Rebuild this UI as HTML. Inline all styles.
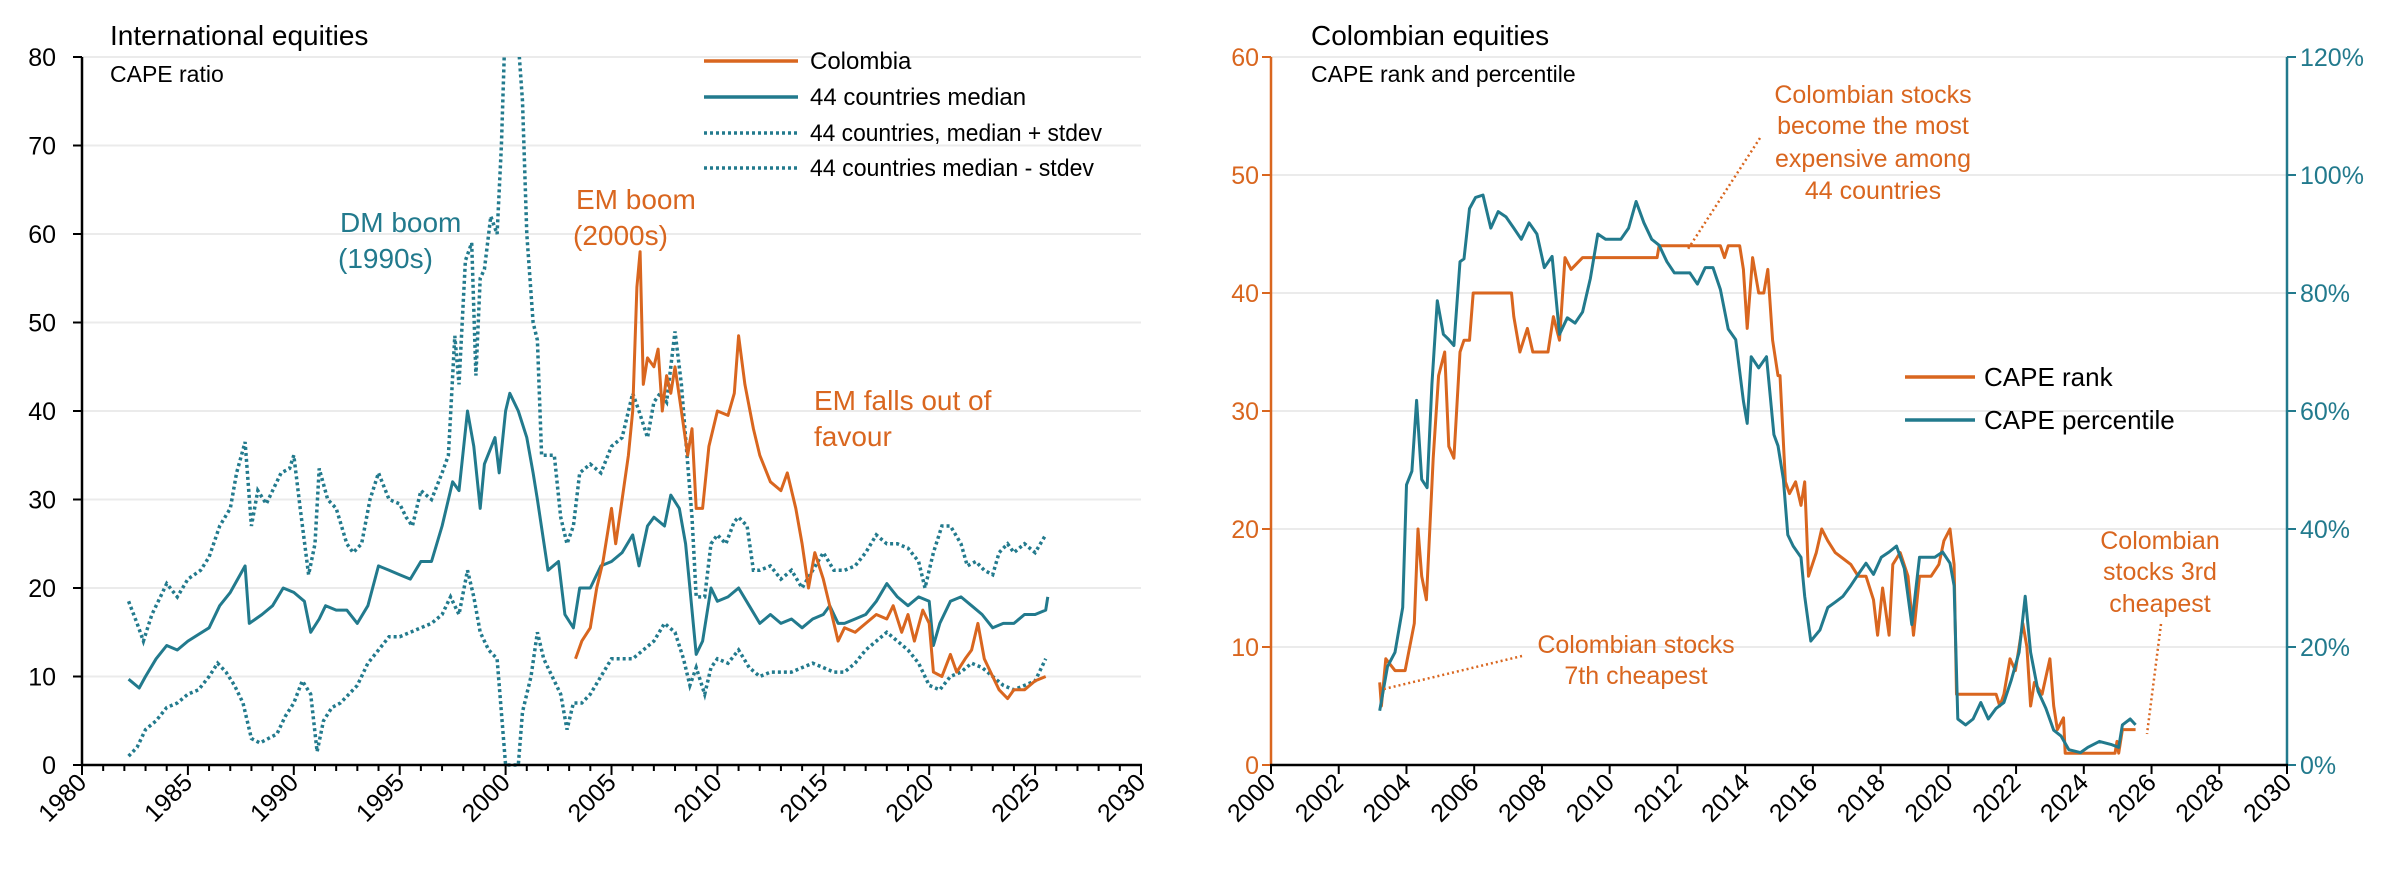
<!DOCTYPE html>
<html><head><meta charset="utf-8">
<style>
html,body{margin:0;padding:0;background:#fff;}
svg{display:block;}
text{font-family:"Liberation Sans Narrow","Liberation Sans",sans-serif;}
.ttl{font-family:"Liberation Sans",sans-serif;}
</style></head>
<body>
<svg id="chart" width="2400" height="875" viewBox="0 0 2400 875" xmlns="http://www.w3.org/2000/svg">
<defs>
<clipPath id="clipL"><rect x="82" y="57" width="1060" height="712"/></clipPath>
<clipPath id="clipR"><rect x="1271" y="57" width="1017" height="712"/></clipPath>
</defs>
<g id="gridL"></g>
<g id="gridR"></g>
<g id="seriesL" clip-path="url(#clipL)"></g>
<g id="seriesR" clip-path="url(#clipR)"></g>
<g id="axesL"></g>
<g id="axesR"></g>

<text class="ttl" x="110" y="45" font-size="28" fill="#000">International equities</text>
<text class="ttl" x="110" y="82" font-size="23" fill="#000">CAPE ratio</text>
<text class="ttl" x="1311" y="45" font-size="28" fill="#000">Colombian equities</text>
<text class="ttl" x="1311" y="82" font-size="23" fill="#000">CAPE rank and percentile</text>

<g font-size="24" fill="#000">
<g><line x1="704" y1="61" x2="798" y2="61" stroke="#d9661f" stroke-width="3.5"/><text x="810" y="69">Colombia</text></g>
<g><line x1="704" y1="97" x2="798" y2="97" stroke="#227a8d" stroke-width="3.5"/><text x="810" y="105">44 countries median</text></g>
<g><line x1="704" y1="133" x2="798" y2="133" stroke="#227a8d" stroke-width="3.5" stroke-dasharray="3,3"/><text x="810" y="141" textLength="292" lengthAdjust="spacingAndGlyphs">44 countries, median + stdev</text></g>
<g><line x1="704" y1="168" x2="798" y2="168" stroke="#227a8d" stroke-width="3.5" stroke-dasharray="3,3"/><text x="810" y="176" textLength="284" lengthAdjust="spacingAndGlyphs">44 countries median - stdev</text></g>
</g>
<g font-size="28" fill="#227a8d"><text x="340" y="232">DM boom</text><text x="338" y="268">(1990s)</text></g>
<g font-size="28" fill="#d9661f"><text x="576" y="209">EM boom</text><text x="573" y="245">(2000s)</text></g>
<g font-size="28" fill="#d9661f"><text x="814" y="410">EM falls out of</text><text x="814" y="446">favour</text></g>

<g font-size="26" fill="#000">
<g><line x1="1905" y1="377" x2="1975" y2="377" stroke="#d9661f" stroke-width="3.5"/><text x="1984" y="386">CAPE rank</text></g>
<g><line x1="1905" y1="420" x2="1975" y2="420" stroke="#227a8d" stroke-width="3.5"/><text x="1984" y="429">CAPE percentile</text></g>
</g>
<g font-size="25" fill="#d9661f" text-anchor="middle">
<text x="1873" y="103">Colombian stocks</text><text x="1873" y="134">become the most</text><text x="1873" y="167">expensive among</text><text x="1873" y="199">44 countries</text>
<line x1="1760" y1="138" x2="1688" y2="249" stroke="#d9661f" stroke-width="2.5" stroke-dasharray="2,3"/>
</g>
<g font-size="25" fill="#d9661f" text-anchor="middle">
<text x="1636" y="653">Colombian stocks</text><text x="1636" y="684">7th cheapest</text>
<line x1="1522" y1="656" x2="1384" y2="689" stroke="#d9661f" stroke-width="2.5" stroke-dasharray="2,3"/>
</g>
<g font-size="25" fill="#d9661f" text-anchor="middle">
<text x="2160" y="549">Colombian</text><text x="2160" y="580">stocks 3rd</text><text x="2160" y="612">cheapest</text>
<line x1="2161" y1="624" x2="2147" y2="734" stroke="#d9661f" stroke-width="2.5" stroke-dasharray="2,3"/>
</g>
</svg>
<script>
// ---------- Left chart data ----------
const medYears = [1982.2,1982.7,1983,1983.5,1984,1984.5,1985,1986,1986.5,1987,1987.7,1987.9,1988.5,1989,1989.5,1990,1990.5,1990.8,1991.2,1991.5,1992,1992.5,1993,1993.5,1994,1994.5,1995,1995.5,1996,1996.5,1997,1997.5,1997.8,1998.2,1998.5,1998.8,1999,1999.5,1999.7,2000,2000.2,2000.6,2001,2001.3,2001.5,2002,2002.5,2002.8,2003.2,2003.5,2004,2004.5,2005,2005.5,2006,2006.3,2006.7,2007,2007.5,2007.8,2008.2,2008.5,2008.7,2009,2009.3,2009.7,2010,2010.5,2011,2011.5,2012,2012.5,2013,2013.5,2014,2014.5,2015,2015.3,2015.7,2016,2016.5,2017,2017.5,2018,2018.5,2019,2019.5,2020,2020.2,2020.5,2021,2021.5,2022,2022.5,2023,2023.5,2024,2024.5,2025,2025.5,2025.6];
const medValues = [9.7,8.7,10,12,13.5,13,14,15.5,18,19.5,22.5,16,17,18,20,19.5,18.5,15,16.5,18,17.5,17.5,16,18,22.5,22,21.5,21,23,23,27,32,31,40,36,29,34,37,33,40,42,40,37,33,30,22,23,17,15.5,20,20,22.5,23,24,26,22.5,27,28,27,30.5,29,25,20,12.5,14,20,18.5,19,20,18,16,17,16,16.5,15.5,16.5,17,18,16,16,16.5,17,18.5,20.5,19,18,19,18.5,13.5,16,18.5,19,18,17,15.5,16,16,17,17,17.5,19];
const colYears = [2003.3,2003.6,2004,2004.3,2004.6,2005,2005.2,2005.5,2005.8,2006,2006.2,2006.35,2006.5,2006.7,2007,2007.2,2007.4,2007.6,2007.8,2008,2008.3,2008.6,2008.8,2009,2009.3,2009.6,2010,2010.5,2010.8,2011,2011.3,2011.7,2012,2012.5,2013,2013.3,2013.7,2014,2014.3,2014.6,2015,2015.3,2015.7,2016,2016.5,2017,2017.5,2018,2018.3,2018.7,2019,2019.3,2019.7,2020,2020.2,2020.6,2021,2021.3,2021.7,2022,2022.3,2022.6,2023,2023.3,2023.7,2024,2024.5,2025,2025.5];
const colValues = [12,14,15.5,20,23,29,25,30,35,40,54,58,43,46,45,47,40,44,42,45,40,35,38,29,29,36,40,39.5,42,48.5,43,38,35,32,31,33,29,25,20,24,21,18,14,15.5,15,16,17,16.5,18,15,17,14,17.5,16,10.5,10,12.5,10.5,12,13,16,12,10,8.5,7.5,8.5,8.5,9.5,10];
const upYears = [1982.2,1982.6,1982.9,1983.3,1983.7,1984,1984.5,1985,1985.6,1986,1986.5,1987,1987.3,1987.7,1988,1988.3,1988.7,1989,1989.4,1989.8,1990,1990.3,1990.7,1991,1991.2,1991.6,1992,1992.5,1992.8,1993.2,1993.6,1994,1994.5,1995,1995.3,1995.6,1996,1996.5,1997,1997.3,1997.6,1997.8,1998.1,1998.4,1998.6,1998.8,1999,1999.3,1999.6,1999.8,2000,2000.5,2000.8,2001,2001.3,2001.5,2001.7,2002,2002.3,2002.6,2002.9,2003.2,2003.5,2004,2004.5,2005,2005.5,2006,2006.3,2006.7,2007,2007.3,2007.6,2008,2008.3,2008.6,2008.8,2009,2009.4,2009.7,2010,2010.4,2010.8,2011,2011.4,2011.7,2012,2012.5,2013,2013.5,2014,2014.5,2015,2015.5,2016,2016.5,2017,2017.5,2018,2018.5,2019,2019.5,2019.8,2020.2,2020.6,2021,2021.5,2021.8,2022.2,2022.6,2023,2023.3,2023.7,2024,2024.5,2025,2025.5];
const upValues = [18.5,16,14,17,19,20.5,19,21,22,23.5,27,29,33,36.5,27,31,29.5,31,33,33.5,35,29,21.5,25,33.5,30,29,25,24,25,30,33,30,29.5,28,27,31,30,33,35,48.5,43,57,59,44,55,56,62,60,70,85,85,75,60,50,48,35,35,35,28,25,27,33,34,33,36,37,42,40,37,41,42,41,49,43,34,28,19,19,25,26,25,27.5,28,27,22,22,22.5,21,22,20,22,24,22,22,22.5,24,26,25,25,24.5,23,20,24,27,27,25,22.5,23,22,21.5,24,25,24,25,24,26];
const loYears = [1982.2,1982.6,1983,1983.5,1984,1984.5,1985,1985.5,1986,1986.4,1986.8,1987.2,1987.6,1988,1988.4,1988.8,1989.2,1989.6,1990,1990.4,1990.8,1991.1,1991.4,1991.8,1992.2,1992.6,1993,1993.5,1994,1994.5,1995,1995.5,1996,1996.5,1997,1997.4,1997.8,1998.2,1998.5,1998.8,1999.2,1999.6,2000,2000.6,2000.8,2001.2,2001.5,2001.8,2002.2,2002.6,2002.9,2003.2,2003.6,2004,2004.5,2005,2005.5,2006,2006.5,2007,2007.5,2008,2008.4,2008.7,2009,2009.4,2009.7,2010,2010.5,2011,2011.5,2012,2012.5,2013,2013.5,2014,2014.5,2015,2015.5,2016,2016.5,2017,2017.5,2018,2018.5,2019,2019.5,2020,2020.5,2021,2021.5,2022,2022.5,2023,2023.5,2024,2024.5,2025,2025.5];
const loValues = [1,2,4,5,6.5,7,8,8.5,10,11.5,10.5,9,7,3,2.5,3,3.5,5.5,7,9.5,8,1.5,5,6.5,7,8,9,11.5,13,14.5,14.5,15,15.5,16,17,19,17,22,19,15,13,12,0,0,6,10,15,12,10,8,4,7,7,8,10,12,12,12,13,14,16,15,12,9,11,8,11,12,11.5,13,11,10,10.5,10.5,10.5,11,11.5,11,10.5,10.5,11.5,13,14,15,14,13,11.5,9,8.5,10,10.5,11.5,11,10,9,8.5,9,9.5,12];
const leftYTicks = [0,10,20,30,40,50,60,70,80];
const leftXTicks = [1980,1985,1990,1995,2000,2005,2010,2015,2020,2025,2030];

// ---------- Right chart data ----------
const rankYears = [2003.21,2003.26,2003.39,2003.66,2003.96,2004.23,2004.34,2004.45,2004.59,2004.79,2004.95,2005.13,2005.25,2005.40,2005.58,2005.70,2005.86,2005.97,2007.10,2007.17,2007.35,2007.57,2007.73,2008.18,2008.34,2008.52,2008.68,2008.86,2009.20,2011.40,2011.46,2013.27,2013.39,2013.50,2013.84,2013.95,2014.06,2014.22,2014.40,2014.55,2014.67,2014.81,2014.97,2015.03,2015.19,2015.31,2015.49,2015.65,2015.76,2015.87,2016.10,2016.26,2016.44,2016.66,2016.89,2017.12,2017.34,2017.57,2017.79,2017.91,2018.06,2018.25,2018.36,2018.58,2018.81,2018.97,2019.15,2019.49,2019.72,2019.87,2020.05,2020.17,2020.24,2021.41,2021.52,2021.64,2021.82,2021.98,2022.20,2022.32,2022.43,2022.54,2022.77,2023.00,2023.11,2023.22,2023.40,2023.45,2024.92,2024.98,2025.03,2025.14,2025.53];
const rankValues = [7,5,9,8,8,12,20,16,14,26,33,35,27,26,35,36,36,40,40,38,35,37,35,35,38,36,43,42,43,43,44,44,43,44,44,42,37,43,40,40,42,36,33,33,24,23,24,22,24,16,18,20,19,18,17.5,17,16,16,14,11,15,11,17,18,16,11,16,16,17,19,20,17,6,6,5,6,9,8,12,10,5,7,6,9,5,3,4,1,1,2,1,3,3];
const pctYears = [2003.21,2003.44,2003.66,2003.89,2004.0,2004.16,2004.30,2004.45,2004.61,2004.75,2004.91,2005.09,2005.25,2005.40,2005.58,2005.70,2005.86,2006.04,2006.26,2006.49,2006.71,2006.94,2007.17,2007.39,2007.62,2007.85,2008.07,2008.30,2008.52,2008.75,2008.98,2009.20,2009.43,2009.65,2009.88,2010.33,2010.56,2010.78,2011.01,2011.24,2011.46,2011.69,2011.91,2012.37,2012.59,2012.82,2013.05,2013.27,2013.50,2013.72,2013.95,2014.06,2014.18,2014.40,2014.63,2014.85,2014.97,2015.13,2015.26,2015.42,2015.65,2015.76,2015.94,2016.21,2016.44,2016.66,2016.89,2017.12,2017.34,2017.57,2017.79,2018.02,2018.25,2018.47,2018.70,2018.92,2019.15,2019.38,2019.60,2019.83,2020.05,2020.17,2020.28,2020.51,2020.73,2020.96,2021.18,2021.41,2021.64,2021.86,2022.09,2022.27,2022.43,2022.65,2022.88,2023.11,2023.33,2023.56,2023.90,2024.12,2024.46,2024.80,2025.03,2025.14,2025.37,2025.53];
const pctValues = [9.2,16.7,19.1,26.7,47.5,49.8,61.8,48.4,47.0,64.5,78.7,73.0,72.1,71.1,85.3,85.8,94.3,96.2,96.6,91.0,93.8,92.9,91.0,89.1,91.9,90.0,84.3,86.2,73.0,75.8,74.9,76.8,82.5,90.0,89.1,89.1,91.0,95.5,91.9,89.1,88.1,85.3,83.4,83.4,81.5,84.3,84.3,80.6,73.9,72.1,61.7,57.9,69.2,67.3,69.2,56.0,54.1,48.4,39.0,37.1,35.2,28.6,21.0,22.9,26.7,27.6,28.6,30.4,32.3,34.2,32.3,35.2,36.1,37.1,33.3,23.8,35.2,35.2,35.2,36.1,34.2,30.4,7.8,6.8,7.8,10.6,7.8,9.6,10.6,14.4,19.1,28.6,19.1,12.5,9.6,5.9,4.9,2.6,2.1,3.0,4.0,3.5,3.0,6.8,7.8,6.8];
const rankTicks = [0,10,20,30,40,50,60];
const pctTicks = [0,20,40,60,80,100,120];
const rightXTicks = [2000,2002,2004,2006,2008,2010,2012,2014,2016,2018,2020,2022,2024,2026,2028,2030];

const NS = "http://www.w3.org/2000/svg";
const ORANGE = "#d9661f", TEAL = "#227a8d";
function mk(tag, attrs, parent){const e=document.createElementNS(NS,tag);for(const k in attrs)e.setAttribute(k,attrs[k]);parent.appendChild(e);return e;}

const xL = y => 82 + (y-1980)*(1141-82)/50;
const yL = v => 765 - v*(765-57)/80;
const xR = y => 1271 + (y-2000)*(2287-1271)/30;
const yRank = v => 765 - v*(765-57)/60;
const yPct = v => 765 - v*(765-57)/120;

function pathD(xs, vs, fx, fy){return xs.map((x,i)=>(i?"L":"M")+fx(x).toFixed(1)+","+fy(vs[i]).toFixed(1)).join(" ");}

const gridL=document.getElementById('gridL'), gridR=document.getElementById('gridR');
const seriesL=document.getElementById('seriesL'), seriesR=document.getElementById('seriesR');
const axesL=document.getElementById('axesL'), axesR=document.getElementById('axesR');

leftYTicks.forEach(v=>{
  if(v>0){const g=mk('line',{x1:82,x2:1141,y1:yL(v),y2:yL(v),stroke:'#ebebeb','stroke-width':2},gridL);
  
  }
  mk('line',{x1:73,x2:82,y1:yL(v),y2:yL(v),stroke:'#000','stroke-width':2},axesL);
  const t=mk('text',{x:56,y:yL(v)+9,'text-anchor':'end','font-size':25,fill:'#000'},axesL);
  t.textContent=v;
  
  
});
mk('line',{x1:82,x2:82,y1:57,y2:766,stroke:'#000','stroke-width':2.5},axesL);
mk('line',{x1:81,x2:1142,y1:765,y2:765,stroke:'#000','stroke-width':2.5},axesL);
for(let yr=1980; yr<=2030; yr++){
  const major = yr%5===0;
  mk('line',{x1:xL(yr),x2:xL(yr),y1:765,y2:major?775:771,stroke:'#000','stroke-width':2},axesL);
}
leftXTicks.forEach(yr=>{
  const x=xL(yr)+6, y=784;
  const t=mk('text',{x:x,y:y,'text-anchor':'end','font-size':25,fill:'#000',transform:`rotate(-45 ${x} ${y})`},axesL);
  t.textContent=yr;
  
  
});

const pUp=mk('path',{d:pathD(upYears,upValues,xL,yL),fill:'none',stroke:TEAL,'stroke-width':3.5,'stroke-dasharray':'3,3'},seriesL);


const pLo=mk('path',{d:pathD(loYears,loValues,xL,yL),fill:'none',stroke:TEAL,'stroke-width':3.5,'stroke-dasharray':'3,3'},seriesL);


const pMed=mk('path',{d:pathD(medYears,medValues,xL,yL),fill:'none',stroke:TEAL,'stroke-width':3,'stroke-linejoin':'round'},seriesL);


const pCol=mk('path',{d:pathD(colYears,colValues,xL,yL),fill:'none',stroke:ORANGE,'stroke-width':3,'stroke-linejoin':'round'},seriesL);



rankTicks.forEach(v=>{
  if(v>0){const g=mk('line',{x1:1271,x2:2287,y1:yRank(v),y2:yRank(v),stroke:'#ebebeb','stroke-width':2},gridR);
  
  }
  mk('line',{x1:1262,x2:1271,y1:yRank(v),y2:yRank(v),stroke:ORANGE,'stroke-width':2},axesR);
  const t=mk('text',{x:1259,y:yRank(v)+9,'text-anchor':'end','font-size':25,fill:ORANGE},axesR);
  t.textContent=v;
  
  
});
pctTicks.forEach(v=>{
  mk('line',{x1:2287,x2:2296,y1:yPct(v),y2:yPct(v),stroke:TEAL,'stroke-width':2},axesR);
  const t=mk('text',{x:2300,y:yPct(v)+9,'font-size':25,fill:TEAL},axesR);
  t.textContent=v+'%';
  
  
});
mk('line',{x1:1271,x2:1271,y1:57,y2:766,stroke:ORANGE,'stroke-width':2.5},axesR);
mk('line',{x1:2287,x2:2287,y1:57,y2:766,stroke:TEAL,'stroke-width':2.5},axesR);
mk('line',{x1:1270,x2:2288,y1:765,y2:765,stroke:'#000','stroke-width':2.5},axesR);
rightXTicks.forEach(yr=>{
  mk('line',{x1:xR(yr),x2:xR(yr),y1:765,y2:774,stroke:'#000','stroke-width':2},axesR);
  const x=xR(yr)+6, y=784;
  const t=mk('text',{x:x,y:y,'text-anchor':'end','font-size':25,fill:'#000',transform:`rotate(-45 ${x} ${y})`},axesR);
  t.textContent=yr;
  
  
});

const pRank=mk('path',{d:pathD(rankYears,rankValues,xR,yRank),fill:'none',stroke:ORANGE,'stroke-width':3,'stroke-linejoin':'round'},seriesR);


const pPct=mk('path',{d:pathD(pctYears,pctValues,xR,yPct),fill:'none',stroke:TEAL,'stroke-width':3,'stroke-linejoin':'round'},seriesR);


</script>
</body></html>
